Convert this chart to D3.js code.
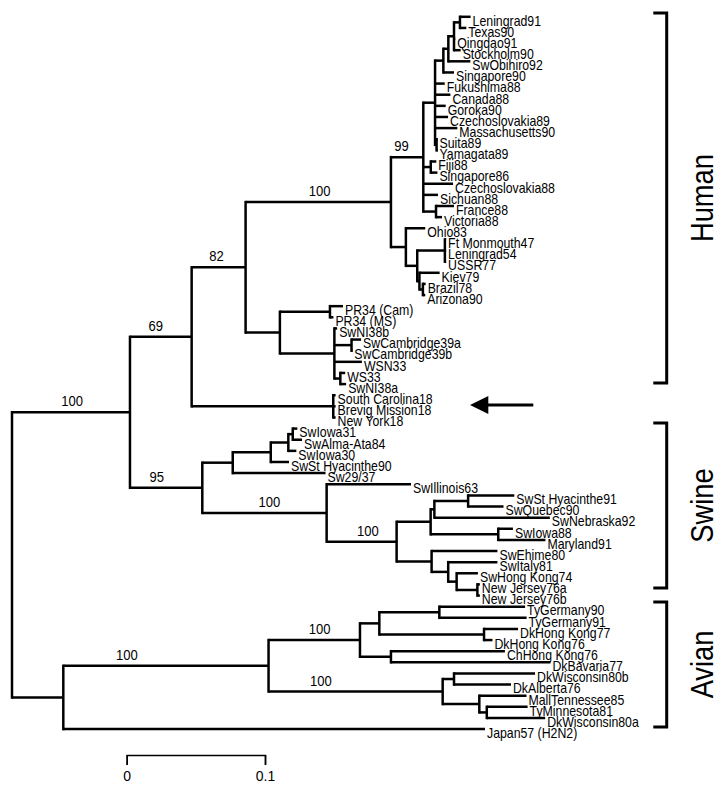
<!DOCTYPE html>
<html><head><meta charset="utf-8">
<script src="https://cdn.jsdelivr.net/npm/d3@7"></script>
<style>
html,body{margin:0;padding:0;background:#fff;}
svg{display:block;}
text{font-family:"Liberation Sans",Arial,Helvetica,sans-serif;fill:#000;}
</style></head><body>
<svg id="chart" width="725" height="796"></svg>
<script>
// ---- DATA ----
// [node, parent, branch length (substitutions/site)], listed in drawing order (top to bottom)
const edges = [
["root",null,0],
["A","root",0.0853],
["C","A",0.0446],
["D","C",0.0390],
["E","D",0.1051],
["F","E",0.0234],
["F1","F",0.0085],
["F1a","F1",0.0060],
["F1b","F1a",0.0036],
["F1c","F1b",0.0041],
["F1d","F1c",0.0043],
["Leningrad91","F1d",0.0077],
["Texas90","F1d",0.0046],
["Qingdao91","F1c",0.0009],
["Stockholm90","F1c",0.0048],
["SwObihiro92","F1b",0.0159],
["Singapore90","F1a",0.0077],
["Fukushima88","F1",0.0070],
["Canada88","F1",0.0111],
["Goroka90","F1",0.0077],
["Czechoslovakia89","F1",0.0094],
["Massachusetts90","F1",0.0161],
["F1e","F1",0.0011],
["Suita89","F1e",0.0007],
["Yamagata89","F1e",0.0007],
["F2","F",0.0054],
["Fiji88","F2",0.0040],
["Singapore86","F2",0.0048],
["Czechoslovakia88","F",0.0215],
["Sichuan88","F",0.0106],
["F3","F",0.0092],
["France88","F3",0.0130],
["Victoria88","F3",0.0043],
["G","E",0.0108],
["Ohio83","G",0.0140],
["H","G",0.0082],
["H1","H",0.0200],
["Ft Monmouth47","H1",0.0009],
["Leningrad54","H1",0.0009],
["USSR77","H1",0.0009],
["H2","H",0.0016],
["Kiev79","H2",0.0146],
["H3","H2",0.0025],
["Brazil78","H3",0.0020],
["Arizona90","H3",0.0017],
["P","D",0.0248],
["P1","P",0.0362],
["PR34 (Cam)","P1",0.0094],
["PR34 (MS)","P1",0.0025],
["Q","P",0.0394],
["SwNI38b","Q",0.0020],
["Q1","Q",0.0124],
["SwCambridge39a","Q1",0.0069],
["SwCambridge39b","Q1",0.0006],
["WSN33","Q",0.0199],
["Q2","Q",0.0043],
["WS33","Q2",0.0035],
["SwNI38a","Q2",0.0042],
["N18","C",0.1024],
["South Carolina18","N18",0.0017],
["Brevig Mission18","N18",0.0017],
["New York18","N18",0.0017],
["S","A",0.0523],
["S1","S",0.0220],
["S1a","S1",0.0275],
["S1b","S1a",0.0127],
["S1c","S1b",0.0032],
["SwIowa31","S1c",0.0033],
["SwAlma-Ata84","S1c",0.0067],
["SwIowa30","S1b",0.0058],
["SwSt Hyacinthe90","S1a",0.0132],
["Sw29/37","S1",0.0671],
["S2","S",0.0899],
["SwIllinois63","S2",0.0610],
["S3","S2",0.0506],
["S4","S3",0.0246],
["S5","S4",0.0027],
["S5a","S5",0.0244],
["SwSt Hyacinthe91","S5a",0.0334],
["SwQuebec90","S5a",0.0256],
["SwNebraska92","S5",0.0835],
["S4a","S4",0.0489],
["SwIowa88","S4a",0.0106],
["Maryland91","S4a",0.0341],
["S6","S3",0.0253],
["SwEhime80","S6",0.0476],
["S7","S6",0.0120],
["SwItaly81","S7",0.0356],
["S8","S7",0.0061],
["SwHong Kong74","S8",0.0154],
["S9","S8",0.0150],
["New Jersey76a","S9",0.0018],
["New Jersey76b","S9",0.0018],
["B","root",0.0371],
["Av","B",0.1484],
["Av1","Av",0.0661],
["Av1a","Av1",0.0140],
["Av1b","Av1a",0.0434],
["TyGermany90","Av1b",0.0620],
["TyGermany91","Av1b",0.0631],
["Av1c","Av1a",0.0757],
["DkHong Kong77","Av1c",0.0246],
["DkHong Kong76","Av1c",0.0061],
["Av1d","Av1",0.0224],
["ChHong Kong76","Av1d",0.0824],
["DkBavaria77","Av1d",0.1153],
["Av2","Av",0.1259],
["Av2a","Av2",0.0082],
["DkWisconsin80b","Av2a",0.0586],
["DkAlberta76","Av2a",0.0412],
["Av2b","Av2",0.0265],
["MallTennessee85","Av2b",0.0341],
["Av2c","Av2b",0.0054],
["TyMinnesota81","Av2c",0.0295],
["DkWisconsin80a","Av2c",0.0422],
["Japan57 (H2N2)","B",0.3049]
];
// bootstrap support values [node, value]
const bootstrap = [["A",100],["C",69],["D",82],["E",100],["F",99],["S",95],["S2",100],["S3",100],["Av",100],["Av1",100],["Av2",100]];
// host groups [label, first leaf, last leaf]
const groups = [["Human","Leningrad91","SwNI38a"],["Swine","SwIowa31","New Jersey76a"],["Avian","TyGermany90","DkWisconsin80a"]];
// scale bar tick values
const scaleTicks = [0, 0.1];
// arrow points at this clade
const arrowTarget = "N18";

// ---- LAYOUT ----
const labelFrac = {A:0.51,C:0.42,D:0.46,E:0.51,F:0.33,S:0.37,S2:0.54,S3:0.59,Av:0.31,Av1:0.56,Av2:0.30};
const groupPad = {Human:[3.8,-1],Swine:[5.6,3.6],Avian:[4.7,9]};
const FS = 14, SX = 0.88;

const svg = d3.select("#chart");
const root = d3.stratify().id(d=>d[0]).parentId(d=>d[1])(edges);
root.eachBefore(n => { n.dist = n.parent ? n.parent.dist + n.data[2] : 0; });
const leaves = root.leaves();
const xScale = d3.scaleLinear().domain([0, 0.1]).range([12, 150.3]);
const yScale = d3.scaleLinear().domain([0, leaves.length - 1]).range([16.8, 729.1]);
leaves.forEach((l, i) => l.idx = i);
root.eachAfter(n => {
  n.px = xScale(n.dist);
  n.py = n.children ? (n.children[0].py + n.children[n.children.length - 1].py) / 2 : yScale(n.idx);
});
const byId = new Map(root.descendants().map(n => [n.id, n]));

const g = svg.append("g");
// horizontal branches
g.selectAll("path.h").data(root.descendants().filter(n => n.parent)).join("path")
  .attr("class","h")
  .attr("d", n => `M${n.parent.px},${n.py}H${n.px}`)
  .attr("stroke","#000").attr("stroke-width",2.5).attr("fill","none");
// vertical connectors
g.selectAll("path.v").data(root.descendants().filter(n => n.children)).join("path")
  .attr("class","v")
  .attr("d", n => `M${n.px},${n.children[0].py}V${n.children[n.children.length-1].py}`)
  .attr("stroke","#000").attr("stroke-width",2.5).attr("stroke-linecap","square").attr("fill","none");

// leaf labels
g.selectAll("text.leaf").data(leaves).join("text")
  .attr("class","leaf")
  .attr("transform", n => `translate(${n.px + 2},${n.py + 8.8}) scale(${SX},1)`)
  .attr("font-size", FS)
  .text(n => n.id);

// bootstrap labels
g.selectAll("text.bs").data(bootstrap).join("text")
  .attr("class","bs")
  .attr("transform", d => {
    const n = byId.get(d[0]);
    const x = n.parent.px + labelFrac[d[0]] * (n.px - n.parent.px);
    return `translate(${x},${n.py - 6}) scale(0.9,1)`;
  })
  .attr("text-anchor","middle")
  .attr("font-size", 14.5)
  .text(d => d[1]);

// group brackets
const bx = 666.7, bArm = 13.4;
groups.forEach(([name, a, b]) => {
  const y0 = byId.get(a).py - groupPad[name][0];
  const y1 = byId.get(b).py + groupPad[name][1];
  svg.append("path")
    .attr("d", `M${bx - bArm},${y0}H${bx}V${y1}H${bx - bArm}`)
    .attr("stroke","#000").attr("stroke-width",3).attr("fill","none");
  svg.append("text")
    .attr("transform", `translate(713,${(y0 + y1) / 2}) rotate(-90) scale(${SX},1)`)
    .attr("text-anchor","middle")
    .attr("font-size", 31)
    .text(name);
});

// arrow
const ay = byId.get(arrowTarget).py - 1.3;
svg.append("path").attr("d", `M488,${ay}H533.3`).attr("stroke","#000").attr("stroke-width",3);
svg.append("path").attr("d", `M470,${ay}L488.3,${ay - 9}L488.3,${ay + 9}Z`).attr("fill","#000");

// scale bar
const barScale = d3.scaleLinear().domain([0, 0.1]).range([126.7, 126.7 + (xScale(0.1) - xScale(0))]);
const axis = svg.append("g").attr("transform","translate(0,755)")
  .call(d3.axisBottom(barScale).tickValues(scaleTicks).tickSize(10).tickPadding(6).tickFormat(d3.format("")));
axis.selectAll("path,line").attr("stroke","#000").attr("stroke-width",1.5);
axis.selectAll("text").attr("font-size", FS).attr("font-family",'"Liberation Sans",Arial,sans-serif').attr("fill","#000");
</script>
</body></html>
